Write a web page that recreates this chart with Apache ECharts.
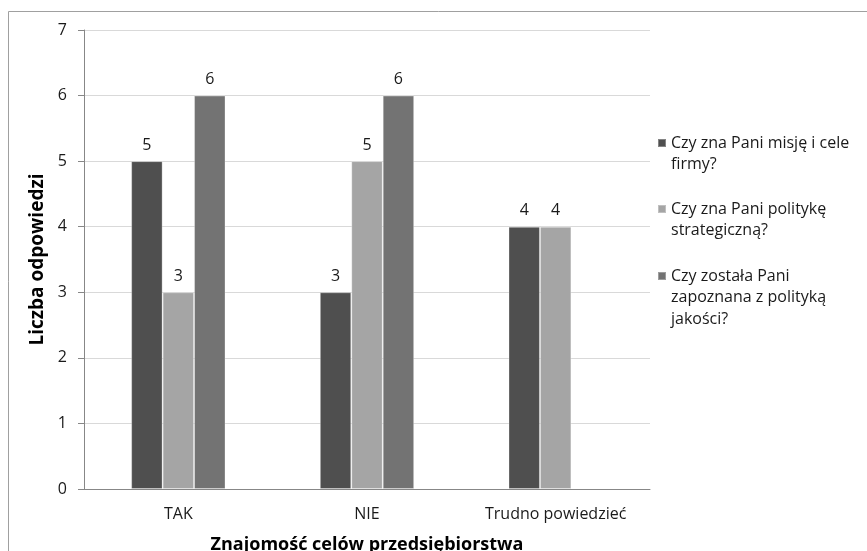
<!DOCTYPE html>
<html>
<head>
<meta charset="utf-8">
<script src="https://cdn.jsdelivr.net/npm/echarts@6/dist/echarts.min.js"></script>
<style>
  html, body { margin: 0; padding: 0; background: #fff; }
  #chart { width: 867px; height: 551px; }
</style>
</head>
<body>
<div id="chart"></div>
<script>
// Answer categories on the x axis
const categories = ['TAK', 'NIE', 'Trudno powiedzieć'];

// Survey questions (legend names, wrapped as they are shown)
const seriesNames = [
  'Czy zna Pani misję i cele\nfirmy?',
  'Czy zna Pani politykę\nstrategiczną?',
  'Czy została Pani\nzapoznana z polityką\njakości?'
];

// Number of answers per question, in category order
const missionValues = [5, 3, 4];
const strategyValues = [3, 5, 4];
const qualityValues = [6, 6, null];

const yTicks = { min: 0, max: 7, interval: 1 };

const FONT = 'Open Sans';
const TEXT_SIZE = 16;
const colors = ['#4f4f4f', '#a5a5a5', '#737373'];
const valuesList = [missionValues, strategyValues, qualityValues];

// Legend layout: line spacing and the centre of each entry's first line
const lineH = 21.7;
const legendFirstLineY = [142, 208, 275];

const chart = echarts.init(document.getElementById('chart'));

const series = seriesNames.map((name, i) => ({
  name: name,
  type: 'bar',
  data: valuesList[i],
  barGap: '0%',
  barCategoryGap: '50%',
  itemStyle: { color: colors[i], borderColor: 'rgba(255,255,255,0.3)', borderWidth: 1 },
  label: {
    show: true,
    position: 'top',
    distance: 8,
    fontFamily: FONT,
    fontSize: TEXT_SIZE,
    color: '#1a1a1a'
  }
}));

// One legend per entry so the marker sits beside the first line of wrapped text
const legends = seriesNames.map((name, i) => {
  const n = name.split('\n').length;
  const boxH = (2 * n - 1) * lineH;
  return {
    data: [name],
    orient: 'vertical',
    left: 657,
    top: legendFirstLineY[i] - boxH / 2 + (n - 1) * lineH / 2,
    padding: 0,
    icon: 'rect',
    itemWidth: 8,
    itemHeight: 8,
    selectedMode: false,
    formatter: (label) => '{sp| }\n' + label.split('\n').map(s => '{t|' + s + '}').join('\n'),
    textStyle: {
      fontFamily: FONT,
      fontSize: TEXT_SIZE,
      color: '#1a1a1a',
      rich: {
        sp: { fontSize: 2, lineHeight: (n - 1) * lineH },
        t: { fontFamily: FONT, fontSize: TEXT_SIZE, lineHeight: lineH, color: '#1a1a1a' }
      }
    }
  };
});

chart.setOption({
  animation: false,
  backgroundColor: '#ffffff',
  color: colors,
  grid: { left: 84, right: 217, top: 30, bottom: 62, containLabel: false, outerBoundsMode: 'none' },
  legend: legends,
  graphic: [{
    type: 'rect',
    shape: { x: 8.5, y: 11.5, width: 900, height: 600 },
    style: { fill: 'none', stroke: '#a0a0a0', lineWidth: 1 },
    silent: true,
    z: -10
  }],
  xAxis: {
    type: 'category',
    data: categories,
    name: 'Znajomość celów przedsiębiorstwa',
    nameLocation: 'middle',
    nameGap: 47,
    nameTextStyle: { fontFamily: FONT, fontSize: 18, fontWeight: 'bold', color: '#000' },
    axisLine: { lineStyle: { color: '#878787', width: 1 } },
    axisTick: { show: false },
    axisLabel: { fontFamily: FONT, fontSize: TEXT_SIZE, color: '#1a1a1a', margin: 17 },
    splitLine: { show: false }
  },
  yAxis: {
    type: 'value',
    min: yTicks.min,
    max: yTicks.max,
    interval: yTicks.interval,
    name: 'Liczba odpowiedzi',
    nameLocation: 'middle',
    nameRotate: 90,
    nameGap: 34,
    nameTextStyle: { fontFamily: FONT, fontSize: 19, fontWeight: 'bold', color: '#000' },
    axisLine: { show: true, lineStyle: { color: '#878787', width: 1 } },
    axisTick: { show: true, length: 6, lineStyle: { color: '#878787' } },
    axisLabel: { fontFamily: FONT, fontSize: TEXT_SIZE, color: '#1a1a1a', margin: 17 },
    splitLine: { lineStyle: { color: '#d9d9d9', width: 1 } }
  },
  series: series
});
</script>
</body>
</html>
